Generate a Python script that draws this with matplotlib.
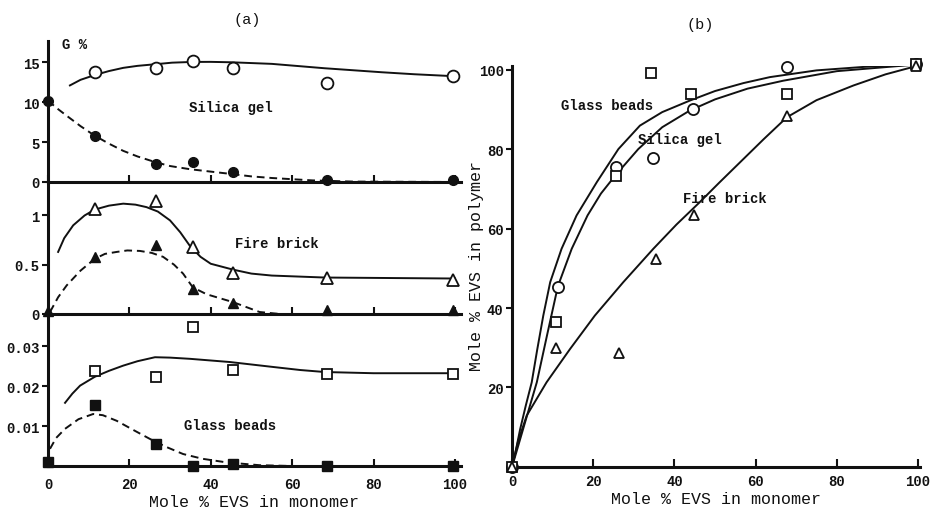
import matplotlib
matplotlib.use("Agg")
import matplotlib.pyplot as plt

plt.rcParams['font.family'] = ['Liberation Mono', 'DejaVu Sans']
plt.rcParams['font.weight'] = 'bold'

INK = '#111111'

# ---- (a) data: measured points, x = mole % EVS in monomer
feed = [0, 11.5, 26.5, 35.6, 45.5, 68.5, 99.6]

silica_open = [None, 13.8, 14.3, 15.2, 14.3, 12.4, 13.3]
silica_fill = [10.2, 5.8, 2.3, 2.5, 1.2, 0.25, 0.2]
brick_open = [None, 1.07, 1.15, 0.68, 0.42, 0.37, 0.35]
brick_fill = [0.03, 0.58, 0.70, 0.25, 0.11, 0.04, 0.04]
beads_open = [None, 0.0238, 0.0222, 0.0347, 0.024, 0.023, 0.023]
beads_fill = [0.001, 0.0153, 0.0055, 0.0, 0.0005, 0.0, 0.0]

# ---- (a) drawn curves
silica_fit_x = [5.4, 8, 11.5, 15, 18.5, 22, 26.3, 30.5, 35.3, 40, 45, 55, 68, 75, 82, 90, 100]
silica_fit_y = [12.1, 12.8, 13.4, 13.9, 14.3, 14.55, 14.75, 14.95, 15.04, 15.05, 15.0,
                14.8, 14.25, 14.0, 13.75, 13.5, 13.25]
silica_dash_x = [0, 2.3, 4.6, 8, 11.5, 15, 18.5, 22, 26.3, 30, 34.9, 40, 45.1, 50, 55, 65, 75, 100]
silica_dash_y = [10.2, 9.2, 8.3, 7.0, 5.8, 4.8, 3.9, 3.2, 2.5, 2.0, 1.6, 1.3, 1.0, 0.7,
                 0.5, 0.2, 0.05, 0.0]

brick_fit_x = [2.5, 4, 6.2, 9, 11.5, 15, 18.5, 21.5, 24.2, 27, 30, 32.5, 34.9, 37.5, 40,
               45.5, 50, 55, 68, 100]
brick_fit_y = [0.63, 0.77, 0.90, 1.0, 1.06, 1.10, 1.12, 1.11, 1.085, 1.04, 0.95, 0.83,
               0.69, 0.58, 0.51, 0.45, 0.41, 0.39, 0.37, 0.36]
brick_dash_x = [0.5, 2.5, 4.6, 8, 11.5, 14, 16.9, 19.5, 22.6, 25.5, 28.3, 31, 33.2, 35.6,
                39, 45.5, 52, 57, 100]
brick_dash_y = [0.02, 0.17, 0.29, 0.44, 0.56, 0.61, 0.63, 0.645, 0.64, 0.62, 0.58, 0.5,
                0.41, 0.27, 0.2, 0.12, 0.02, 0.0, 0.0]

beads_fit_x = [4.2, 6, 7.9, 11.5, 15, 18.5, 22, 26.3, 30, 34.9, 44.7, 55, 62, 68, 80, 100]
beads_fit_y = [0.0158, 0.0181, 0.0201, 0.0223, 0.0238, 0.0251, 0.0262, 0.0272, 0.0271,
               0.0268, 0.026, 0.0248, 0.024, 0.0235, 0.0232, 0.0232]
beads_dash_x = [0.5, 2, 4.2, 7.5, 11.1, 13.5, 16.9, 21, 25, 29, 33.2, 38, 43.9, 52, 60, 100]
beads_dash_y = [0.0043, 0.007, 0.0093, 0.0117, 0.013, 0.0127, 0.0113, 0.009, 0.0068,
                0.0048, 0.003, 0.0018, 0.0009, 0.0002, 0.0, 0.0]

# ---- (b) copolymer composition
sil_x = [0, 11.4, 25.5, 34.8, 44.5, 67.8, 99.5]
sil_y = [0, 45.4, 75.6, 77.7, 90.1, 100.6, 101.4]
gb_x = [0, 10.8, 25.5, 34.2, 44.1, 67.7, 99.5]
gb_y = [0, 36.4, 73.3, 99.2, 93.9, 93.9, 101.5]
fb_x = [0, 10.8, 26.4, 35.4, 44.9, 67.8, 99.5]
fb_y = [0, 30.0, 28.6, 52.4, 63.3, 88.4, 101.0]

gb_curve_x = [0, 1, 2, 3.4, 4.85, 6.2, 7.7, 9.4, 12.2, 15.9, 20.9, 26.2, 31.5, 37, 43.8,
              50, 57, 63.5, 75, 87, 100]
gb_curve_y = [0, 4.5, 9.5, 15.5, 21.3, 29.5, 38.1, 46.5, 54.9, 63.3, 71.7, 80, 85.9, 89.3,
              92.2, 94.6, 96.6, 98.1, 99.8, 100.7, 101.3]
sil_curve_x = [0, 3, 6.1, 8.7, 11.3, 14.7, 18.6, 21.9, 25.4, 31.1, 37, 43.8, 50, 58, 66.8,
               80, 100]
sil_curve_y = [0, 10.5, 21.3, 33.5, 45.5, 54.9, 63.3, 68.8, 73.3, 80, 85.5, 89.7, 92.5,
               95.2, 97.2, 99.6, 101.3]
fb_curve_x = [0, 1.5, 3.6, 8.5, 14.3, 20.4, 27.4, 34.8, 40.5, 46, 51, 57, 62, 67.7, 75,
              84.1, 92, 100]
fb_curve_y = [0, 6.5, 12.9, 21.3, 29.7, 38.1, 46.5, 54.9, 61, 66.4, 71.5, 77.5, 82.5, 88,
              92.3, 96, 98.8, 101]


def pts(xs, ys):
    keep = [(a, b) for a, b in zip(xs, ys) if b is not None]
    return [a for a, b in keep], [b for a, b in keep]


def style_left(ax, ylim, yticks, yticklabels, xlabels=False):
    ax.set_xlim(0, 101.5)
    ax.set_ylim(*ylim)
    for s in ('top', 'right'):
        ax.spines[s].set_visible(False)
    for s in ('left', 'bottom'):
        ax.spines[s].set_linewidth(2.2)
        ax.spines[s].set_color(INK)
    ax.set_yticks(yticks)
    ax.set_yticklabels(yticklabels)
    ax.set_xticks([0, 20, 40, 60, 80, 100])
    ax.tick_params(axis='y', direction='out', length=4, width=1.5, pad=2,
                   labelsize=10, colors=INK)
    ax.tick_params(axis='x', direction='in', length=5, width=1.5, pad=8,
                   labelsize=10, colors=INK, labelbottom=xlabels)
    ax.patch.set_alpha(0)


fig = plt.figure(figsize=(9.33, 5.10), dpi=100)

mk_open = dict(ls='none', mfc='white', mec=INK, mew=1.3, clip_on=False, zorder=5)
mk_fill = dict(ls='none', mfc=INK, mec=INK, mew=1.0, clip_on=False, zorder=5)
solid = dict(color=INK, lw=1.4)
dashed = dict(color=INK, lw=1.4, ls=(0, (4, 2.5)))

# top: silica gel
ax1 = fig.add_axes([0.0514, 0.6412, 0.4427, 0.277])
ax1.plot(silica_fit_x, silica_fit_y, **solid)
ax1.plot(silica_dash_x, silica_dash_y, **dashed)
ax1.plot(*pts(feed, silica_open), 'o', ms=8.5, **mk_open)
ax1.plot(*pts(feed, silica_fill), 'o', ms=7, **mk_fill)
style_left(ax1, (0, 17.7), [0, 5, 10, 15], ['0', '5', '10', '15'])
ax1.text(45, 9.4, 'Silica gel', fontsize=10, ha='center', va='center', color=INK)

# middle: fire brick
ax2 = fig.add_axes([0.0514, 0.3824, 0.4427, 0.2588])
ax2.plot(brick_fit_x, brick_fit_y, **solid)
ax2.plot(brick_dash_x, brick_dash_y, **dashed)
ax2.plot(*pts(feed, brick_open), '^', ms=8, **mk_open)
ax2.plot(*pts(feed, brick_fill), '^', ms=7, **mk_fill)
style_left(ax2, (0, 1.34), [0, 0.5, 1], ['0', '0.5', '1'])
ax2.text(56.3, 0.72, 'Fire brick', fontsize=10, ha='center', va='center', color=INK)

# bottom: glass beads
ax3 = fig.add_axes([0.0514, 0.0843, 0.4427, 0.298])
ax3.plot(beads_fit_x, beads_fit_y, **solid)
ax3.plot(beads_dash_x, beads_dash_y, **dashed)
ax3.plot(*pts(feed, beads_open), 's', ms=7.5, **mk_open)
ax3.plot(*pts(feed, beads_fill), 's', ms=7, **mk_fill)
style_left(ax3, (0, 0.038), [0.01, 0.02, 0.03], ['0.01', '0.02', '0.03'], xlabels=True)
ax3.text(44.7, 0.0102, 'Glass beads', fontsize=10, ha='center', va='center', color=INK)
ax3.set_xlabel('Mole % EVS in monomer', fontsize=12, labelpad=2, color=INK)

fig.text(0.0665, 0.912, 'G %', fontsize=10, ha='left', va='center', color=INK)
fig.text(0.265, 0.961, '(a)', fontsize=11, ha='center', va='center', color=INK,
         fontweight='normal')

# (b)
ax4 = fig.add_axes([0.5488, 0.0824, 0.4373, 0.787])
ax4.plot(gb_curve_x, gb_curve_y, **solid)
ax4.plot(sil_curve_x, sil_curve_y, **solid)
ax4.plot(fb_curve_x, fb_curve_y, **solid)
ax4.plot(sil_x, sil_y, 'o', ms=8, **mk_open)
ax4.plot(gb_x, gb_y, 's', ms=7.5, **mk_open)
ax4.plot(fb_x, fb_y, '^', ms=7, **mk_open)
ax4.set_xlim(0, 100.5)
ax4.set_ylim(0, 101)
for s in ('top', 'right'):
    ax4.spines[s].set_visible(False)
for s in ('left', 'bottom'):
    ax4.spines[s].set_linewidth(2.2)
    ax4.spines[s].set_color(INK)
ax4.set_xticks([0, 20, 40, 60, 80, 100])
ax4.set_yticks([20, 40, 60, 80, 100])
ax4.tick_params(axis='y', direction='out', length=4, width=1.5, pad=2,
                labelsize=10, colors=INK)
ax4.tick_params(axis='x', direction='in', length=6, width=1.5, pad=5,
                labelsize=10, colors=INK)
ax4.patch.set_alpha(0)
ax4.text(23.3, 91.0, 'Glass beads', fontsize=10, ha='center', va='center', color=INK)
ax4.text(41.3, 82.5, 'Silica gel', fontsize=10, ha='center', va='center', color=INK)
ax4.text(52.4, 67.7, 'Fire brick', fontsize=10, ha='center', va='center', color=INK)
ax4.set_xlabel('Mole % EVS in monomer', fontsize=12, labelpad=2, color=INK)
ax4.set_ylabel('Mole % EVS in polymer', fontsize=12, color=INK)
ax4.yaxis.set_label_coords(-0.069, 0.503)
fig.text(0.750, 0.951, '(b)', fontsize=11, ha='center', va='center', color=INK,
         fontweight='normal')

fig.savefig('out.png', dpi=100, facecolor='white')
